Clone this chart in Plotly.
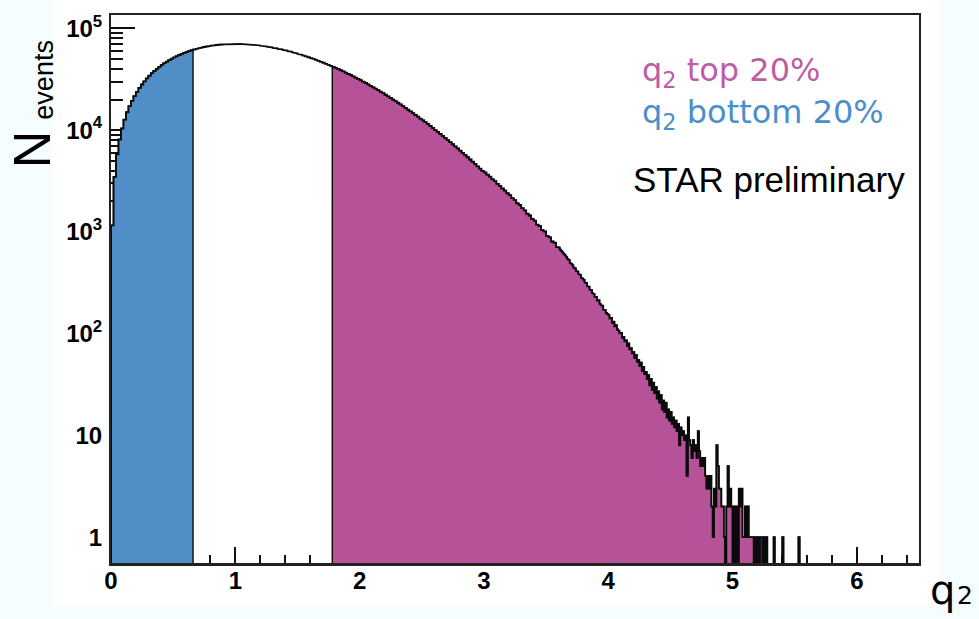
import numpy as np
import plotly.graph_objects as go

# ---------------------------------------------------------------------------
# q2 event distribution (counts per bin).
# Bins are 0.02 wide from 0 to 3.6, then 0.01 wide from 3.6 to 5.6.
# ---------------------------------------------------------------------------
CORE_BIN = 0.02
TAIL_BIN = 0.01
TAIL_START = 3.6

core_counts = [
    1160, 3480, 5790, 8100, 10400, 12700, 15000, 17200, 19400, 21600,
    23800, 26000, 28100, 30200, 32300, 34300, 36300, 38200, 40100, 41900,
    43700, 45500, 47200, 48800, 50400, 51900, 53400, 54800, 56200, 57500,
    58700, 59900, 61000, 62100, 63100, 64000, 64900, 65700, 66400, 67100,
    67700, 68200, 68700, 69100, 69500, 69800, 70000, 70200, 70300, 70400,
    70400, 70300, 70200, 70000, 69800, 69500, 69200, 68900, 68500, 68000,
    67500, 67000, 66400, 65800, 65100, 64400, 63700, 63000, 62200, 61400,
    60500, 59700, 58800, 57900, 57000, 56000, 55100, 54100, 53100, 52100,
    51100, 50100, 49100, 48000, 47000, 46000, 44900, 43900, 42900, 41800,
    40800, 39800, 38800, 37800, 36700, 35800, 34800, 33800, 32800, 31900,
    30900, 30000, 29100, 28200, 27300, 26400, 25600, 24700, 23900, 23100,
    22300, 21500, 20800, 20000, 19300, 18600, 17900, 17200, 16600, 15900,
    15300, 14700, 14100, 13600, 13000, 12500, 12000, 11500, 11000, 10500,
    10000, 9610, 9180, 8770, 8380, 7990, 7630, 7270, 6930, 6610,
    6290, 5990, 5700, 5420, 5150, 4900, 4650, 4410, 4190, 3970,
    3840, 3650, 3490, 3290, 3150, 2970, 2840, 2670, 2550, 2400,
    2300, 2150, 2050, 1910, 1840, 1710, 1630, 1510, 1450, 1340,
    1290, 1180, 1140, 1040, 1010, 915, 885, 805, 785, 710,
]

tail_counts = [
    702, 668, 651, 629, 604, 588, 566, 541, 530, 494,
    487, 470, 446, 437, 412, 409, 383, 380, 352, 349,
    338, 318, 316, 292, 290, 271, 269, 250, 246, 231,
    229, 212, 213, 196, 190, 188, 172, 171, 160, 156,
    153, 141, 143, 128, 131, 118, 121, 110, 107, 101,
    102, 91, 93, 84, 86, 76, 80, 70, 72, 64,
    66, 58, 62, 53, 55, 48, 52, 43, 47, 40,
    42, 36, 39, 31, 36, 28, 33, 26, 30, 23,
    27, 21, 25, 18, 22, 17, 21, 15, 18, 14,
    17, 13, 15, 12, 14, 11, 13, 8, 12, 10,
    11, 9, 10, 4, 15, 9, 8, 6, 9, 7,
    8, 6, 11, 7, 5, 6, 5, 6, 4, 3,
    4, 3, 4, 2, 1, 3, 2, 8, 5, 3,
    3, 2, 2, 1, 0, 2, 5, 2, 3, 2,
    0, 2, 0, 2, 0, 3, 2, 3, 1, 1,
    2, 1, 2, 1, 1, 1, 1, 0, 1, 0,
    1, 0, 1, 1, 0, 1, 0, 1, 0, 0,
    0, 0, 0, 1, 0, 0, 0, 0, 0, 0,
    1, 0, 0, 0, 0, 0, 0, 0, 0, 0,
    0, 0, 0, 1, 0, 0, 0, 0, 0, 0,
]

# selection cuts: bottom 20% below Q_LOW, top 20% above Q_HIGH
Q_LOW = 0.66
Q_HIGH = 1.78

y_tick_vals = [1, 10, 100, 1000, 10000, 100000]
y_tick_text = ["1", "10", "10<sup>2</sup>", "10<sup>3</sup>",
               "10<sup>4</sup>", "10<sup>5</sup>"]
x_tick_vals = [0, 1, 2, 3, 4, 5, 6]
x_tick_text = ["0", "1", "2", "3", "4", "5", "6"]

legend_top = "q<sub>2</sub> top 20%"
legend_bottom = "q<sub>2</sub> bottom 20%"
label_prelim = "STAR preliminary"

# ---------------------------------------------------------------------------
core_edges = np.arange(len(core_counts) + 1) * CORE_BIN
tail_edges = TAIL_START + np.arange(1, len(tail_counts) + 1) * TAIL_BIN
edges = np.round(np.concatenate([core_edges, tail_edges]), 4)
counts = np.array(core_counts + tail_counts, dtype=float)
n_bins = len(counts)

FLOOR = 1e-3  # empty bins drop below the visible log range


def step_path(lo, hi):
    xs, ys = [edges[lo]], [FLOOR]
    for i in range(lo, hi):
        v = counts[i] if counts[i] > 0 else FLOOR
        xs += [edges[i], edges[i + 1]]
        ys += [v, v]
    xs.append(edges[hi])
    ys.append(FLOOR)
    return xs, ys


i_low = int(np.searchsorted(edges, Q_LOW - 1e-9))
i_high = int(np.searchsorted(edges, Q_HIGH - 1e-9))

BLUE = "#508EC8"
MAGENTA = "#B55298"
OUTLINE = "#0a0a0a"

fig = go.Figure()

bx, by = step_path(0, i_low)
fig.add_trace(go.Scatter(x=bx, y=by, mode="lines", fill="toself",
                         fillcolor=BLUE, line=dict(color=OUTLINE, width=1.4),
                         hoverinfo="skip"))
mx, my = step_path(i_high, n_bins)
fig.add_trace(go.Scatter(x=mx, y=my, mode="lines", fill="toself",
                         fillcolor=MAGENTA, line=dict(color=OUTLINE, width=1.4),
                         hoverinfo="skip"))
ox, oy = step_path(0, n_bins)
fig.add_trace(go.Scatter(x=ox, y=oy, mode="lines",
                         line=dict(color=OUTLINE, width=1.8),
                         hoverinfo="skip"))

# plot frame geometry (pixels)
W, H = 979, 619
L, R, T, B = 111, 60, 12, 55
pw, ph = W - L - R, H - T - B


def px(x):
    return (x - L) / pw


def py(y):
    return (H - B - y) / ph


x_minor = [round(v, 1) for v in np.arange(0.2, 6.5, 0.2) if abs(v - round(v)) > 1e-6]
y_minor = [m * 10 ** d for d in range(-1, 5) for m in range(2, 10)]

TICK_FONT = dict(family="Liberation Sans", size=24, color="black", weight="bold")

fig.update_layout(
    width=W, height=H,
    margin=dict(l=L, r=R, t=T, b=B, pad=0),
    paper_bgcolor="#F6FDFE",
    plot_bgcolor="white",
    showlegend=False,
    xaxis=dict(
        range=[0, 6.5], tickmode="array", tickvals=x_tick_vals, ticktext=x_tick_text,
        ticks="inside", ticklen=17, tickwidth=1.5, tickcolor="#111",
        minor=dict(tickvals=x_minor, ticks="inside", ticklen=9, tickwidth=1.5,
                   tickcolor="#111"),
        showgrid=False, zeroline=False, showline=True, mirror=True,
        linecolor="#222", linewidth=2, tickfont=TICK_FONT,
        layer="below traces", ticklabelstandoff=-6,
    ),
    yaxis=dict(
        type="log", range=[-0.264, 5.132], tickmode="array",
        tickvals=y_tick_vals, ticktext=y_tick_text,
        ticks="inside", ticklen=24, tickwidth=1.5, tickcolor="#111",
        minor=dict(tickvals=y_minor, ticks="inside", ticklen=12, tickwidth=1.5,
                   tickcolor="#111", showgrid=False),
        showgrid=False, zeroline=False, showline=True, mirror=True,
        linecolor="#222", linewidth=2, tickfont=TICK_FONT,
        layer="below traces", ticklabelstandoff=2,
    ),
    shapes=[
        # white panel behind the chart
        dict(type="rect", xref="paper", yref="paper",
             x0=px(52), x1=px(940), y0=py(606), y1=py(-5),
             fillcolor="white", line=dict(width=0), layer="below"),
        # bottom frame edge stays visible over the fills
        dict(type="line", xref="paper", yref="paper", x0=0, x1=1, y0=0, y1=0,
             line=dict(color="#222", width=2), layer="above"),
    ],
)

ann = [
    dict(text=legend_top, x=px(640), y=py(69), xanchor="left", yanchor="middle",
         font=dict(family="DejaVu Sans", size=32, color="#BF5CA6")),
    dict(text=legend_bottom, x=px(640), y=py(112), xanchor="left", yanchor="middle",
         font=dict(family="DejaVu Sans", size=32, color="#4A8FCC")),
    dict(text=label_prelim, x=px(631), y=py(177), xanchor="left", yanchor="middle",
         font=dict(family="Liberation Sans", size=35, color="black")),
    # y-axis title N_events
    dict(text="N", x=px(32), y=py(147), xanchor="center", yanchor="middle",
         textangle=-90, font=dict(family="Liberation Sans", size=52, color="black")),
    dict(text="events", x=px(44), y=py(77), xanchor="center", yanchor="middle",
         textangle=-90, font=dict(family="Liberation Sans", size=27, color="black")),
    # x-axis title q2
    dict(text="q", x=px(928), y=py(590), xanchor="left", yanchor="middle",
         font=dict(family="DejaVu Sans", size=40, color="black")),
    dict(text="2", x=px(955), y=py(596), xanchor="left", yanchor="middle",
         font=dict(family="DejaVu Sans", size=25, color="black")),
]
for a in ann:
    a.update(xref="paper", yref="paper", showarrow=False)
fig.update_layout(annotations=ann)

fig.write_html("out.html")
